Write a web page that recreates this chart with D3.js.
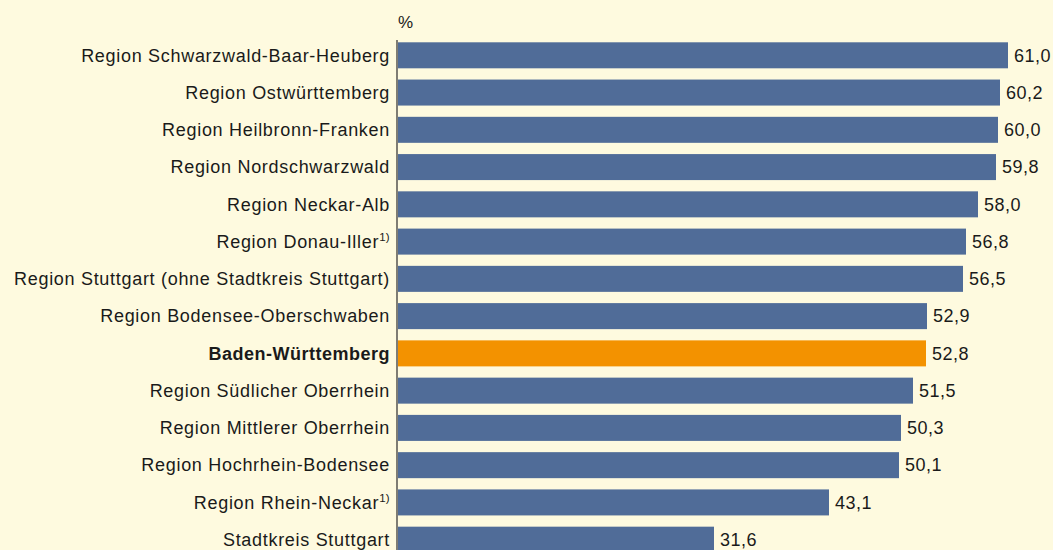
<!DOCTYPE html>
<html><head><meta charset="utf-8">
<script src="https://cdn.jsdelivr.net/npm/d3@7"></script>
<style>
html,body{margin:0;padding:0;background:#fefadf;}
svg{display:block;font-family:"Liberation Sans",Arial,Helvetica,sans-serif;}
</style></head>
<body>
<svg id="c" width="1053" height="550"></svg>
<script>
const categories = [
  "Region Schwarzwald-Baar-Heuberg",
  "Region Ostwürttemberg",
  "Region Heilbronn-Franken",
  "Region Nordschwarzwald",
  "Region Neckar-Alb",
  "Region Donau-Iller",
  "Region Stuttgart (ohne Stadtkreis Stuttgart)",
  "Region Bodensee-Oberschwaben",
  "Baden-Württemberg",
  "Region Südlicher Oberrhein",
  "Region Mittlerer Oberrhein",
  "Region Hochrhein-Bodensee",
  "Region Rhein-Neckar",
  "Stadtkreis Stuttgart"
];
const values = [61.0, 60.2, 60.0, 59.8, 58.0, 56.8, 56.5, 52.9, 52.8, 51.5, 50.3, 50.1, 43.1, 31.6];
const footnoted = ["Region Donau-Iller", "Region Rhein-Neckar"];
const highlight = "Baden-Württemberg";
const unitLabel = "%";

const svg = d3.select("#c");
const x0 = 398, pxPerUnit = 10.0;
const x = d3.scaleLinear().domain([0, 61]).range([x0, x0 + 61 * pxPerUnit]);
const step = 37.26;
const y = d3.scaleBand().domain(categories)
  .range([42.3 - 5.63, 42.3 - 5.63 + step * categories.length])
  .paddingInner(0.302).paddingOuter(0.151);

const data = categories.map((c, i) => ({c, v: values[i]}));

svg.append("g").selectAll("rect").data(data).join("rect")
  .attr("x", x(0))
  .attr("y", d => y(d.c))
  .attr("width", d => x(d.v) - x(0))
  .attr("height", y.bandwidth())
  .attr("fill", d => d.c === highlight ? "#f39200" : "#506c98");

svg.append("line").attr("x1", x0 - 1).attr("x2", x0 - 1)
  .attr("y1", 40).attr("y2", 550)
  .attr("stroke", "#3a3a3a").attr("stroke-width", 1.3);

const lab = svg.append("g").selectAll("text").data(data).join("text")
  .attr("x", x0 - 8)
  .attr("y", d => y(d.c) + y.bandwidth() / 2)
  .attr("dy", "0.35em")
  .attr("text-anchor", "end")
  .attr("font-size", 18)
  .attr("letter-spacing", d => d.c === highlight ? "0.5px" : "0.7px")
  .attr("font-weight", d => d.c === highlight ? "bold" : "normal")
  .attr("fill", "#1a1a1a");
lab.each(function(d){
  const t = d3.select(this);
  t.append("tspan").text(d.c);
  if (footnoted.includes(d.c)) {
    t.append("tspan").text("1)").attr("font-size", 11.5).attr("letter-spacing", "0.3px").attr("dy", "-0.6em");
  }
});

svg.append("g").selectAll("text").data(data).join("text")
  .attr("x", d => x(d.v) + 6)
  .attr("y", d => y(d.c) + y.bandwidth() / 2)
  .attr("dy", "0.35em")
  .attr("font-size", 18)
  .attr("letter-spacing", "0.5px")
  .attr("fill", "#1a1a1a")
  .text(d => d3.format(".1f")(d.v).replace(".", ","));

svg.append("text").attr("x", x0).attr("y", 28)
  .attr("font-size", 17).attr("fill", "#1a1a1a").text(unitLabel);
</script>
</body></html>
